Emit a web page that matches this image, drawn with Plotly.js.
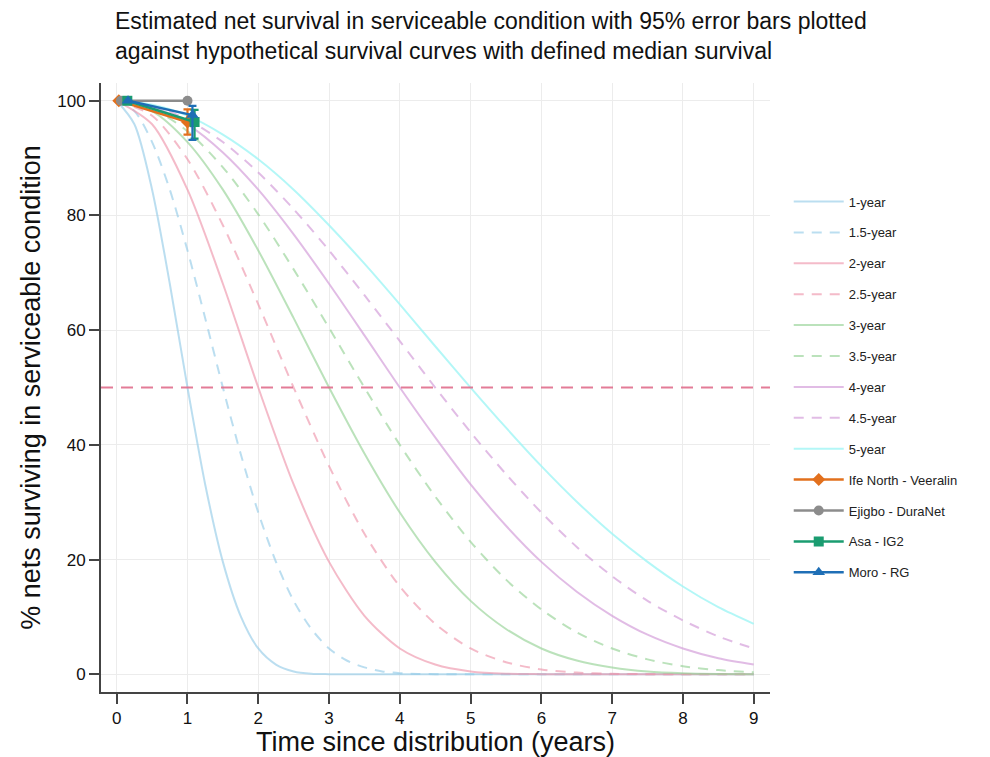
<!DOCTYPE html>
<html>
<head>
<meta charset="utf-8">
<script src="https://cdn.plot.ly/plotly-3.0.1.min.js"></script>
<style>html,body{margin:0;padding:0;background:#fff;}#chart{width:990px;height:757px;}</style>
</head>
<body>
<div id="chart"></div>
<script>
// ---- Data ----
// time grids (years)
const tFine = [0,0.25,0.5,0.75,1,1.25,1.5,1.75,2,2.25,2.5,2.75,3,3.25,3.5,3.75,4,4.25,4.5,5,5.5,6,6.5,7,7.5,8,8.5,9];
const tHalf = [0,0.5,1,1.5,2,2.5,3,3.5,4,4.5,5,5.5,6,6.5,7,7.5,8,8.5,9];

// hypothetical survival curves (% surviving)
const curve1y   = [100,95.9,84.5,68.1,50,33.1,19.6,10.2,4.5,1.7,0.5,0.1,0.02,0,0,0,0,0,0,0,0,0,0,0,0,0,0,0];
const curve15y  = [100,98.2,92.8,84.5,73.9,62.1,50,38.5,28.2,19.6,12.8,7.9,4.5,2.4,1.2,0.5,0.19,0.06,0.02,0,0,0,0,0,0,0,0,0];
const curve2y   = [100,95.9,84.5,68.1,50,33.1,19.6,10.2,4.5,1.7,0.5,0.1,0.02,0,0,0,0,0,0];
const curve25y  = [100,97.4,89.8,78.3,64.5,50,36.3,24.5,15.3,8.8,4.5,2.1,0.84,0.29,0.08,0.02,0,0,0];
const curve3y   = [100,98.2,92.8,84.5,73.9,62.1,50,38.5,28.2,19.6,12.8,7.9,4.5,2.4,1.2,0.5,0.19,0.06,0.02];
const curve35y  = [100,98.6,94.7,88.4,80.2,70.6,60.4,50,40.0,31.0,23.1,16.5,11.3,7.3,4.5,2.6,1.4,0.73,0.34];
const curve4y   = [100,99.0,95.9,91.0,84.5,76.7,68.1,59.1,50,41.3,33.1,25.9,19.6,14.4,10.2,6.9,4.5,2.8,1.7];
const curve45y  = [100,99.2,96.7,92.8,87.5,81.1,73.9,66.1,58.1,50,42.2,34.9,28.2,22.2,17.1,12.8,9.4,6.6,4.5];
const curve5y   = [100,99.3,97.4,94.1,89.8,84.5,78.3,71.6,64.5,57.2,50,43.0,36.3,30.1,24.5,19.6,15.3,11.7,8.8];

const curveNames = ["1-year","1.5-year","2-year","2.5-year","3-year","3.5-year","4-year","4.5-year","5-year"];

// observed estimates with 95% CI
const siteNames = ["Ife North - Veeralin","Ejigbo - DuraNet","Asa - IG2","Moro - RG"];
const veeralinT = [0.03, 1.0];  const veeralinS = [100, 96.3]; const veeralinHi = [100, 98.5]; const veeralinLo = [100, 94.1];
const duranetT  = [0.06, 1.0];  const duranetS  = [100, 100];
const ig2T      = [0.15, 1.1];  const ig2S      = [100, 96.3]; const ig2Hi      = [100, 98.4]; const ig2Lo      = [100, 93.4];
const rgT       = [0.16, 1.07]; const rgS       = [100, 97.5]; const rgHi       = [100, 99.1]; const rgLo       = [100, 93.2];

const medianLevel = 50;
const xTicks = [0,1,2,3,4,5,6,7,8,9];
const yTicks = [0,20,40,60,80,100];
const titleText = "Estimated net survival in serviceable condition with 95% error bars plotted<br>against hypothetical survival curves with defined median survival";

// ---- styling ----
const FONT = "Liberation Sans, Arial, Helvetica, sans-serif";
const blueC = "rgba(150,205,232,0.65)";
const pinkC = "rgba(238,150,172,0.65)";
const greenC = "rgba(150,210,150,0.65)";
const purpleC = "rgba(212,160,218,0.7)";
const cyanC = "rgba(160,245,245,0.8)";
const DASH = "10px,8px";

function curve(name, x, y, color, dashed) {
  return {
    type: "scatter", mode: "lines", name: name, x: x, y: y,
    legendgroup: name,
    line: {color: color, width: 2, shape: "spline", smoothing: 0.8, dash: dashed ? DASH : "solid"},
    hoverinfo: "skip"
  };
}
function errArr(s, hi, lo) {
  return {
    plus: hi.map((v, i) => v - s[i]),
    minus: s.map((v, i) => v - lo[i])
  };
}
function obs(name, x, y, color, symbol, hi, lo) {
  const t = {
    type: "scatter", mode: "lines+markers", name: name, x: x, y: y,
    legendgroup: name,
    line: {color: color, width: 2.5},
    marker: {color: color, symbol: symbol, size: symbol === "triangle-up" ? 11 : 10}
  };
  if (hi) {
    const e = errArr(y, hi, lo);
    t.error_y = {type: "data", symmetric: false, array: e.plus, arrayminus: e.minus,
                 color: color, thickness: 2.2, width: 4};
  }
  return t;
}

const traces = [
  curve(curveNames[0], tFine, curve1y, blueC, false),
  curve(curveNames[1], tFine, curve15y, blueC, true),
  curve(curveNames[2], tHalf, curve2y, pinkC, false),
  curve(curveNames[3], tHalf, curve25y, pinkC, true),
  curve(curveNames[4], tHalf, curve3y, greenC, false),
  curve(curveNames[5], tHalf, curve35y, greenC, true),
  curve(curveNames[6], tHalf, curve4y, purpleC, false),
  curve(curveNames[7], tHalf, curve45y, purpleC, true),
  curve(curveNames[8], tHalf, curve5y, cyanC, false),
  obs(siteNames[0], veeralinT, veeralinS, "#e2701d", "diamond", veeralinHi, veeralinLo),
  obs(siteNames[1], duranetT, duranetS, "#8c8c8c", "circle"),
  obs(siteNames[2], ig2T, ig2S, "#1a9c70", "square", ig2Hi, ig2Lo),
  obs(siteNames[3], rgT, rgS, "#1f6fb6", "triangle-up", rgHi, rgLo)
];

const layout = {
  width: 990, height: 757,
  paper_bgcolor: "#ffffff", plot_bgcolor: "#ffffff",
  font: {family: FONT, color: "#111"},
  margin: {l: 101, r: 220, t: 83, b: 65, pad: 0},
  annotations: [{
    text: titleText, showarrow: false, align: "left",
    xref: "paper", x: (113 - 101) / 669, xanchor: "left",
    yref: "paper", y: 1 + (83 - 6) / 609, yanchor: "top",
    font: {family: FONT, size: 23, color: "#111"}
  }],
  xaxis: {
    range: [-0.222, 9.23], tickvals: xTicks, ticktext: xTicks.map(String),
    showgrid: true, gridcolor: "#ececec", gridwidth: 1, zeroline: false,
    showline: true, linecolor: "#444", linewidth: 2,
    ticks: "outside", ticklen: 10, tickwidth: 2, tickcolor: "#444",
    tickfont: {size: 17, family: FONT, color: "#111"},
    title: {text: "Time since distribution (years)", font: {size: 27, family: FONT, color: "#111"}, standoff: 4}
  },
  yaxis: {
    range: [-3.09, 103.1], tickvals: yTicks, ticktext: yTicks.map(String),
    showgrid: true, gridcolor: "#ececec", gridwidth: 1, zeroline: false,
    showline: true, linecolor: "#444", linewidth: 2,
    ticks: "outside", ticklen: 10, tickwidth: 2, tickcolor: "#444",
    tickfont: {size: 17, family: FONT, color: "#111"},
    title: {text: "% nets surviving in serviceable condition", font: {size: 27, family: FONT, color: "#111"}, standoff: 9}
  },
  shapes: [{
    type: "line", xref: "paper", x0: 0, x1: 1, yref: "y", y0: medianLevel, y1: medianLevel,
    line: {color: "rgba(224,110,140,0.9)", width: 2, dash: "12px,8px"}, layer: "above"
  }],
  legend: {
    x: 1.028, xanchor: "left", y: 0.83, yanchor: "top",
    font: {size: 13, family: FONT, color: "#222"},
    itemwidth: 50, tracegroupgap: 11, bgcolor: "rgba(0,0,0,0)",
    traceorder: "grouped"
  },
  showlegend: true
};

Plotly.newPlot("chart", traces, layout, {displayModeBar: false, staticPlot: true});
</script>
</body>
</html>
